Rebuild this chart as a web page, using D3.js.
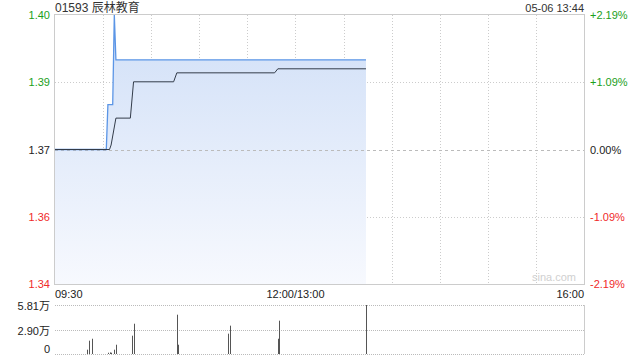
<!DOCTYPE html>
<html>
<head>
<meta charset="utf-8">
<script src="https://cdn.jsdelivr.net/npm/d3@7"></script>
<style>
	body { margin: 0; background: #fff; }
	svg { display: block; }
	svg text { font-family: "Liberation Sans", Arial, "Noto Sans CJK SC", sans-serif; }
</style>
</head>
<body>
<div id="chart"></div>
<script>
var title = '01593 辰林教育',
	stamp = '05-06 13:44',
	prevClose = 1.37,
	priceLimit = 0.0219;

// price line (minute, price)
var priceTimes = ['09:30', '10:02', '10:03', '10:06', '10:07', '10:08', '13:44'];
var priceValues = [1.37, 1.37, 1.38, 1.38, 1.40, 1.39, 1.39];

// average price line
var avgTimes = ['09:30', '10:04', '10:05', '10:08', '10:17', '10:19', '10:44', '10:46', '11:47', '11:49', '13:44'];
var avgValues = [1.37, 1.37, 1.371, 1.377, 1.377, 1.3851, 1.3851, 1.3871, 1.3871, 1.388, 1.388];

// volume bars
var volTimes = ['09:50', '09:51', '09:53', '10:03', '10:04', '10:05', '10:07', '10:08', '10:18', '10:19', '10:46', '10:47', '11:18', '11:19', '11:49', '11:50', '13:44'];
var volValues = [5100, 15800, 18100, 1500, 1900, 1500, 5100, 11000, 21700, 35900, 46600, 11000, 24100, 33600, 18100, 39500, 58100];

var timeLabels = ['09:30', '12:00/13:00', '16:00'];

(function() {
	var width = 640, height = 360,
		left = 55, right = 584,
		top = 15, bottom = 284,
		vTop = 305, vBottom = 354;

	var svg = d3.select('#chart').append('svg')
		.attr('width', width)
		.attr('height', height);

	// trading minutes since 09:30, lunch break removed
	var toMinute = function(s) {
		var p = s.split(':'), t = +p[0] * 60 + +p[1];
		return t <= 720 ? t - 570 : t - 780 + 150;
	};

	var x = d3.scaleLinear().domain([0, 330]).range([left, right]);
	var y = d3.scaleLinear()
		.domain([prevClose * (1 - priceLimit), prevClose * (1 + priceLimit)])
		.range([bottom, top]);
	var yv = d3.scaleLinear().domain([0, d3.max(volValues)]).range([vBottom, vTop]);

	var green = '#1ba01b', red = '#f02a2a', dark = '#222';

	// header
	svg.append('text').attr('x', left).attr('y', 12)
		.attr('font-size', 12).attr('fill', '#333').text(title);
	svg.append('text').attr('x', right).attr('y', 12).attr('text-anchor', 'end')
		.attr('font-size', 11).attr('fill', '#333').text(stamp);

	// area gradient
	var grad = svg.append('defs').append('linearGradient')
		.attr('id', 'fillGrad').attr('x1', 0).attr('y1', 0).attr('x2', 0).attr('y2', 1);
	grad.append('stop').attr('offset', '0%').attr('stop-color', '#d0dff7');
	grad.append('stop').attr('offset', '100%').attr('stop-color', '#f7f9fe');

	// grid
	var levels = d3.range(5).map(function(i) { return y.domain()[0] + i * (y.domain()[1] - y.domain()[0]) / 4; });
	var grid = svg.append('g').attr('fill', 'none');
	d3.range(1, 11).forEach(function(i) {
		grid.append('line')
			.attr('x1', Math.round(x(i * 30)) + 0.5).attr('x2', Math.round(x(i * 30)) + 0.5)
			.attr('y1', top).attr('y2', bottom)
			.attr('stroke', '#ccc').attr('stroke-dasharray', '1,2');
	});
	[1, 3].forEach(function(i) {
		grid.append('line')
			.attr('x1', left).attr('x2', right)
			.attr('y1', Math.round(y(levels[i])) + 0.5).attr('y2', Math.round(y(levels[i])) + 0.5)
			.attr('stroke', '#ccc').attr('stroke-dasharray', '1,2');
	});

	var priceData = priceTimes.map(function(t, i) { return [toMinute(t), priceValues[i]]; });
	var avgData = avgTimes.map(function(t, i) { return [toMinute(t), avgValues[i]]; });

	svg.append('path').datum(priceData)
		.attr('fill', 'url(#fillGrad)')
		.attr('d', d3.area()
			.x(function(d) { return x(d[0]); })
			.y0(bottom)
			.y1(function(d) { return y(d[1]); }));

	// zero line
	svg.append('line')
		.attr('x1', left).attr('x2', right)
		.attr('y1', Math.round(y(prevClose)) + 0.5).attr('y2', Math.round(y(prevClose)) + 0.5)
		.attr('stroke', '#bbb').attr('stroke-dasharray', '3,3');

	var line = d3.line()
		.x(function(d) { return x(d[0]); })
		.y(function(d) { return y(d[1]); });
	svg.append('path').datum(priceData)
		.attr('fill', 'none').attr('stroke', '#5b95e6').attr('stroke-width', 1.3)
		.attr('d', line);
	svg.append('path').datum(avgData)
		.attr('fill', 'none').attr('stroke', '#333c4a').attr('stroke-width', 1)
		.attr('d', line);

	// frame
	svg.append('rect')
		.attr('x', left - 0.5).attr('y', top - 0.5)
		.attr('width', right - left + 1).attr('height', bottom - top + 1)
		.attr('fill', 'none').attr('stroke', '#ccc');

	// watermark
	svg.append('text').attr('x', right - 8).attr('y', 281).attr('text-anchor', 'end')
		.attr('font-size', 11).attr('fill', '#d0d0d0').text('sina.com');

	// y labels, percent truncated to 2 decimals
	levels.forEach(function(v, i) {
		var col = i > 2 ? green : (i < 2 ? red : dark);
		var pct = Math.round((v / prevClose - 1) * 1e6) / 1e4;
		var pctText = Math.abs(pct) < 0.001 ? '0.00' : (pct > 0 ? '+' : '-') + (Math.floor(Math.abs(pct) * 100) / 100).toFixed(2);
		svg.append('text').attr('x', left - 5).attr('y', y(v) + 4)
			.attr('text-anchor', 'end').attr('font-size', 11).attr('fill', col)
			.text((Math.round(v * 100 + 0.01) / 100).toFixed(2));
		svg.append('text').attr('x', right + 6).attr('y', y(v) + 4)
			.attr('font-size', 11).attr('fill', col)
			.text(pctText + '%');
	});

	// time labels
	svg.append('text').attr('x', left).attr('y', 298).attr('font-size', 11).attr('fill', dark).text(timeLabels[0]);
	svg.append('text').attr('x', x(150)).attr('y', 298).attr('text-anchor', 'middle').attr('font-size', 11).attr('fill', dark).text(timeLabels[1]);
	svg.append('text').attr('x', right).attr('y', 298).attr('text-anchor', 'end').attr('font-size', 11).attr('fill', dark).text(timeLabels[2]);

	// volume panel
	var vmax = d3.max(volValues);
	[vmax, vmax / 2, 0].forEach(function(v, i) {
		var yy = Math.round(yv(v)) + 0.5;
		svg.append('line')
			.attr('x1', left).attr('x2', right).attr('y1', yy).attr('y2', yy)
			.attr('stroke', '#bbb').attr('stroke-dasharray', '1,1');
		var lbl = v === 0 ? '0' : (Math.floor(v / 100) / 100).toFixed(2) + '万';
		svg.append('text').attr('x', left - 5).attr('y', i === 2 ? yy - 2 : yy + 4)
			.attr('text-anchor', 'end').attr('font-size', 11).attr('fill', dark).text(lbl);
	});
	svg.append('line')
		.attr('x1', right + 0.5).attr('x2', right + 0.5).attr('y1', vTop).attr('y2', vBottom)
		.attr('stroke', '#ccc');

	svg.append('g').selectAll('line')
		.data(volTimes.map(function(t, i) { return [toMinute(t), volValues[i]]; }))
		.enter().append('line')
		.attr('x1', function(d) { return Math.round(x(d[0])) + 0.5; })
		.attr('x2', function(d) { return Math.round(x(d[0])) + 0.5; })
		.attr('y1', vBottom)
		.attr('y2', function(d) { return yv(d[1]); })
		.attr('stroke', '#555').attr('stroke-width', 1);
})();
</script>
</body>
</html>
